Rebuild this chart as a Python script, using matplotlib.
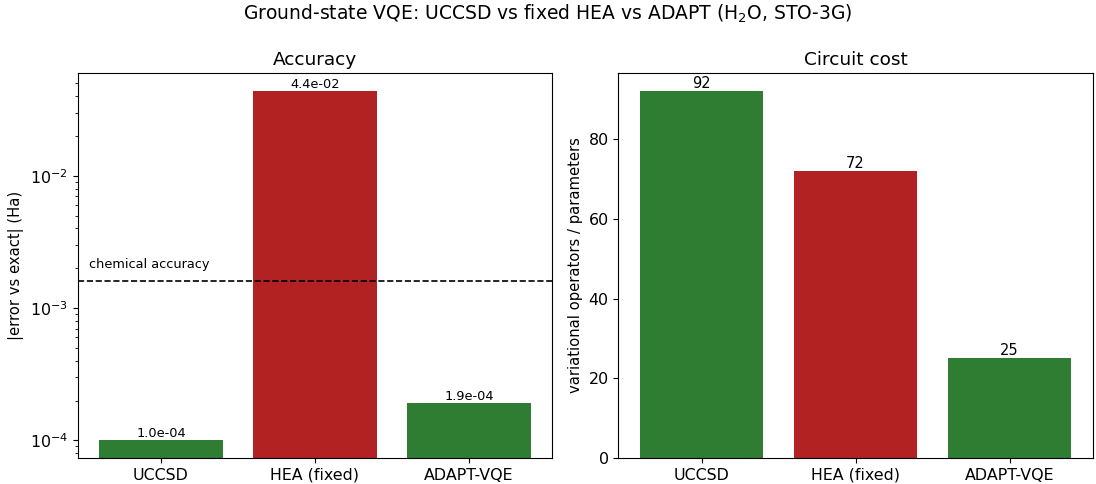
import numpy as np
import matplotlib
matplotlib.use("Agg")
import matplotlib.pyplot as plt

methods = ["UCCSD", "HEA (fixed)", "ADAPT-VQE"]
errors = [1.0e-4, 4.4e-2, 1.9e-4]
n_params = [92, 72, 25]
colors = ["#2e7d32", "#b22222", "#2e7d32"]
chem_acc = 1.6e-3

fig, (ax1, ax2) = plt.subplots(1, 2, figsize=(10.96, 4.84), dpi=100)
fig.subplots_adjust(left=0.071, right=0.997, bottom=0.054, top=0.849, wspace=0.14)

bars = ax1.bar(methods, errors, color=colors)
ax1.set_yscale("log")
ax1.axhline(chem_acc, color="black", linestyle="--", linewidth=1.2)
ax1.text(0.023, chem_acc * 1.25, "chemical accuracy", fontsize=9.3,
         transform=ax1.get_yaxis_transform())
for b, v in zip(bars, errors):
    ax1.text(b.get_x() + b.get_width() / 2, v, f"{v:.1e}",
             ha="center", va="bottom", fontsize=9.3)
ax1.set_ylabel("|error vs exact| (Ha)", fontsize=10.6)
ax1.set_title("Accuracy", fontsize=13.3)
ax1.tick_params(labelsize=11.4)

bars2 = ax2.bar(methods, n_params, color=colors)
for b, v in zip(bars2, n_params):
    ax2.text(b.get_x() + b.get_width() / 2, v, str(v),
             ha="center", va="bottom", fontsize=10.5)
ax2.set_ylabel("variational operators / parameters", fontsize=10.6)
ax2.set_title("Circuit cost", fontsize=13.3)
ax2.tick_params(labelsize=11.4)

fig.suptitle("Ground-state VQE: UCCSD vs fixed HEA vs ADAPT (H$_2$O, STO-3G)",
             fontsize=13.5, y=0.995)
plt.savefig("out.png")
